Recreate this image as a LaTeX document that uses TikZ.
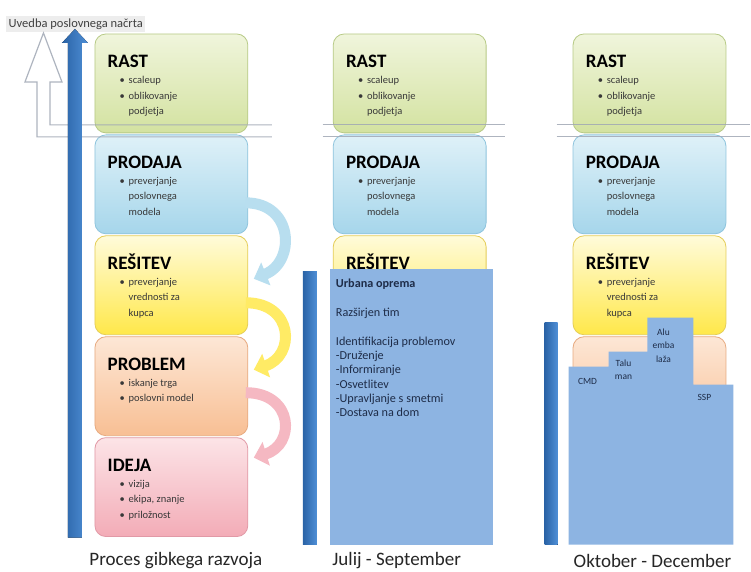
\documentclass[tikz,border=0pt]{standalone}
\usepackage{fontspec}
\setmainfont{Carlito}
\usetikzlibrary{arrows.meta}
\definecolor{rastT}{HTML}{F0F5DC}
\definecolor{rastB}{HTML}{D3E2A0}
\definecolor{rastD}{HTML}{B7CA86}
\definecolor{prodT}{HTML}{DFF1F8}
\definecolor{prodB}{HTML}{A6D6EB}
\definecolor{prodD}{HTML}{8EC4DD}
\definecolor{resT}{HTML}{FFFBDA}
\definecolor{resB}{HTML}{FFE84A}
\definecolor{resD}{HTML}{E4CD58}
\definecolor{probT}{HTML}{FDE7D6}
\definecolor{probB}{HTML}{F8BF94}
\definecolor{probD}{HTML}{E7AA80}
\definecolor{ideT}{HTML}{FCE4E7}
\definecolor{ideB}{HTML}{F3ACB7}
\definecolor{ideD}{HTML}{E199A6}
\definecolor{barL}{HTML}{2A63A6}
\definecolor{barR}{HTML}{4F8FD6}
\definecolor{cardC}{HTML}{8DB4E2}
\definecolor{lineC}{HTML}{A0A8B4}
\definecolor{inkC}{HTML}{1E2C48}
\newcommand{\bulmark}{\makebox[9pt][l]{\textbullet}}
\begin{document}
\begin{tikzpicture}[x=1pt,y=-1pt,
  box/.style={rounded corners=11pt,minimum width=153pt,minimum height=99pt,line width=0.8pt},
  rast/.style={box,draw=rastD,top color=rastT,bottom color=rastB},
  prodaja/.style={box,draw=prodD,top color=prodT,bottom color=prodB},
  resitev/.style={box,draw=resD,top color=resT,bottom color=resB},
  problem/.style={box,draw=probD,top color=probT,bottom color=probB},
  ideja/.style={box,draw=ideD,top color=ideT,bottom color=ideB},
  head/.style={anchor=base west,inner sep=0pt,font=\fontsize{19}{22}\selectfont\bfseries},
  items/.style={anchor=north west,inner sep=0pt,align=left,text=black!78,font=\fontsize{10.5}{15.5}\selectfont},
  carrow/.style={line width=11pt,-{Triangle[width=24pt,length=13pt]}},
  bar/.style={left color=barL,right color=barR},
  note/.style={inner sep=0pt,align=center,text=inkC,font=\fontsize{9.5}{13.5}\selectfont},
  period/.style={inner sep=0pt,text=black!85,font=\fontsize{19}{22}\selectfont}]
\fill[white] (0,0) rectangle (751,572);
\node[fill=black!7,inner sep=2.5pt,anchor=west,font=\fontsize{12.5}{14}\selectfont,text=black!75] (title) at (6,24) {Uvedba poslovnega načrta};
% stolpci s fazami
\foreach \x/\c in {171.5/L,410/M,650/R}{
  \node[rast] (rast\c) at (\x,83.5) {};
  \node[head] at ([xshift=13pt,yshift=-34pt]rast\c.north west) {RAST};
  \node[items] at ([xshift=25pt,yshift=-39pt]rast\c.north west) {\strut\bulmark scaleup\\ \bulmark oblikovanje\\ \phantom{\bulmark}podjetja};
  \node[prodaja] (prodaja\c) at (\x,184.5) {};
  \node[head] at ([xshift=13pt,yshift=-34pt]prodaja\c.north west) {PRODAJA};
  \node[items] at ([xshift=25pt,yshift=-39pt]prodaja\c.north west) {\strut\bulmark preverjanje\\ \phantom{\bulmark}poslovnega\\ \phantom{\bulmark}modela};
  \node[resitev] (resitev\c) at (\x,285.5) {};
  \node[head] at ([xshift=13pt,yshift=-34pt]resitev\c.north west) {REŠITEV};
}
\foreach \c in {L,R}
  \node[items] at ([xshift=25pt,yshift=-39pt]resitev\c.north west) {\strut\bulmark preverjanje\\ \phantom{\bulmark}vrednosti za\\ \phantom{\bulmark}kupca};
\node[problem] (problemL) at (171.5,386.5) {};
\node[head] at ([xshift=13pt,yshift=-34pt]problemL.north west) {PROBLEM};
\node[items] at ([xshift=25pt,yshift=-39pt]problemL.north west) {\strut\bulmark iskanje trga\\ \bulmark poslovni model};
\node[problem] (problemR) at (650,386.5) {};
\node[ideja] (idejaL) at (171.5,487.5) {};
\node[head] at ([xshift=13pt,yshift=-34pt]idejaL.north west) {IDEJA};
\node[items] at ([xshift=25pt,yshift=-39pt]idejaL.north west) {\strut\bulmark vizija\\ \bulmark ekipa, znanje\\ \bulmark priložnost};
% meja in puscici
\draw[lineC,line width=1.2pt,opacity=0.85] (272,137)--(37,137)--(37,82)--(25,82)--(43.5,33)--(62,82)--(50,82)--(50,125)--(272,125);
\draw[lineC,line width=1.2pt,opacity=0.85] (323,125)--(505,125) (323,137)--(505,137) (557,125)--(751,125) (557,137)--(751,137);
\fill[bar] (68,538)--(68,43)--(62,43)--(75,29)--(88,43)--(82,43)--(82,538)--cycle;
\draw[carrow,color=prodB!80!white] (246,203) .. controls (294,203) and (296,262) .. (254,279);
\draw[carrow,color=resB!85!white] (246,303) .. controls (294,303) and (296,356) .. (254,370);
\draw[carrow,color=ideB!85!white] (246,393) .. controls (294,393) and (296,445) .. (254,458);
% julij - september
\fill[bar] (303,272) rectangle (317,545);
\fill[cardC] (330,269) rectangle (493,545);
\node[anchor=north west,inner sep=0pt,align=left,text=inkC,font=\fontsize{12.2}{14.3}\selectfont] (urbana) at (336,278) {\strut\textbf{Urbana oprema}\\[14.3pt] Razširjen tim\\[14.3pt] Identifikacija problemov\\ -Druženje\\ -Informiranje\\ -Osvetlitev\\ -Upravljanje s smetmi\\ -Dostava na dom};
% oktober - december
\fill[bar] (545,323) rectangle (558,545);
\fill[cardC] (569,545)--(569,367)--(609,367)--(609,352)--(648,352)--(648,318)--(694,318)--(694,385)--(734,385)--(734,545)--cycle;
\node[note] (cmd) at (588,382) {CMD};
\node[note] (talu) at (624,370) {Talu\\man};
\node[note] (alu) at (664,346) {Alu\\emba\\laža};
\node[note] (ssp) at (705,398) {SSP};
\node[period] (proces) at (176,561) {Proces gibkega razvoja};
\node[period] (julij) at (397,561) {Julij - September};
\node[period] (oktober) at (653,561) {Oktober - December};
\end{tikzpicture}
\end{document}
